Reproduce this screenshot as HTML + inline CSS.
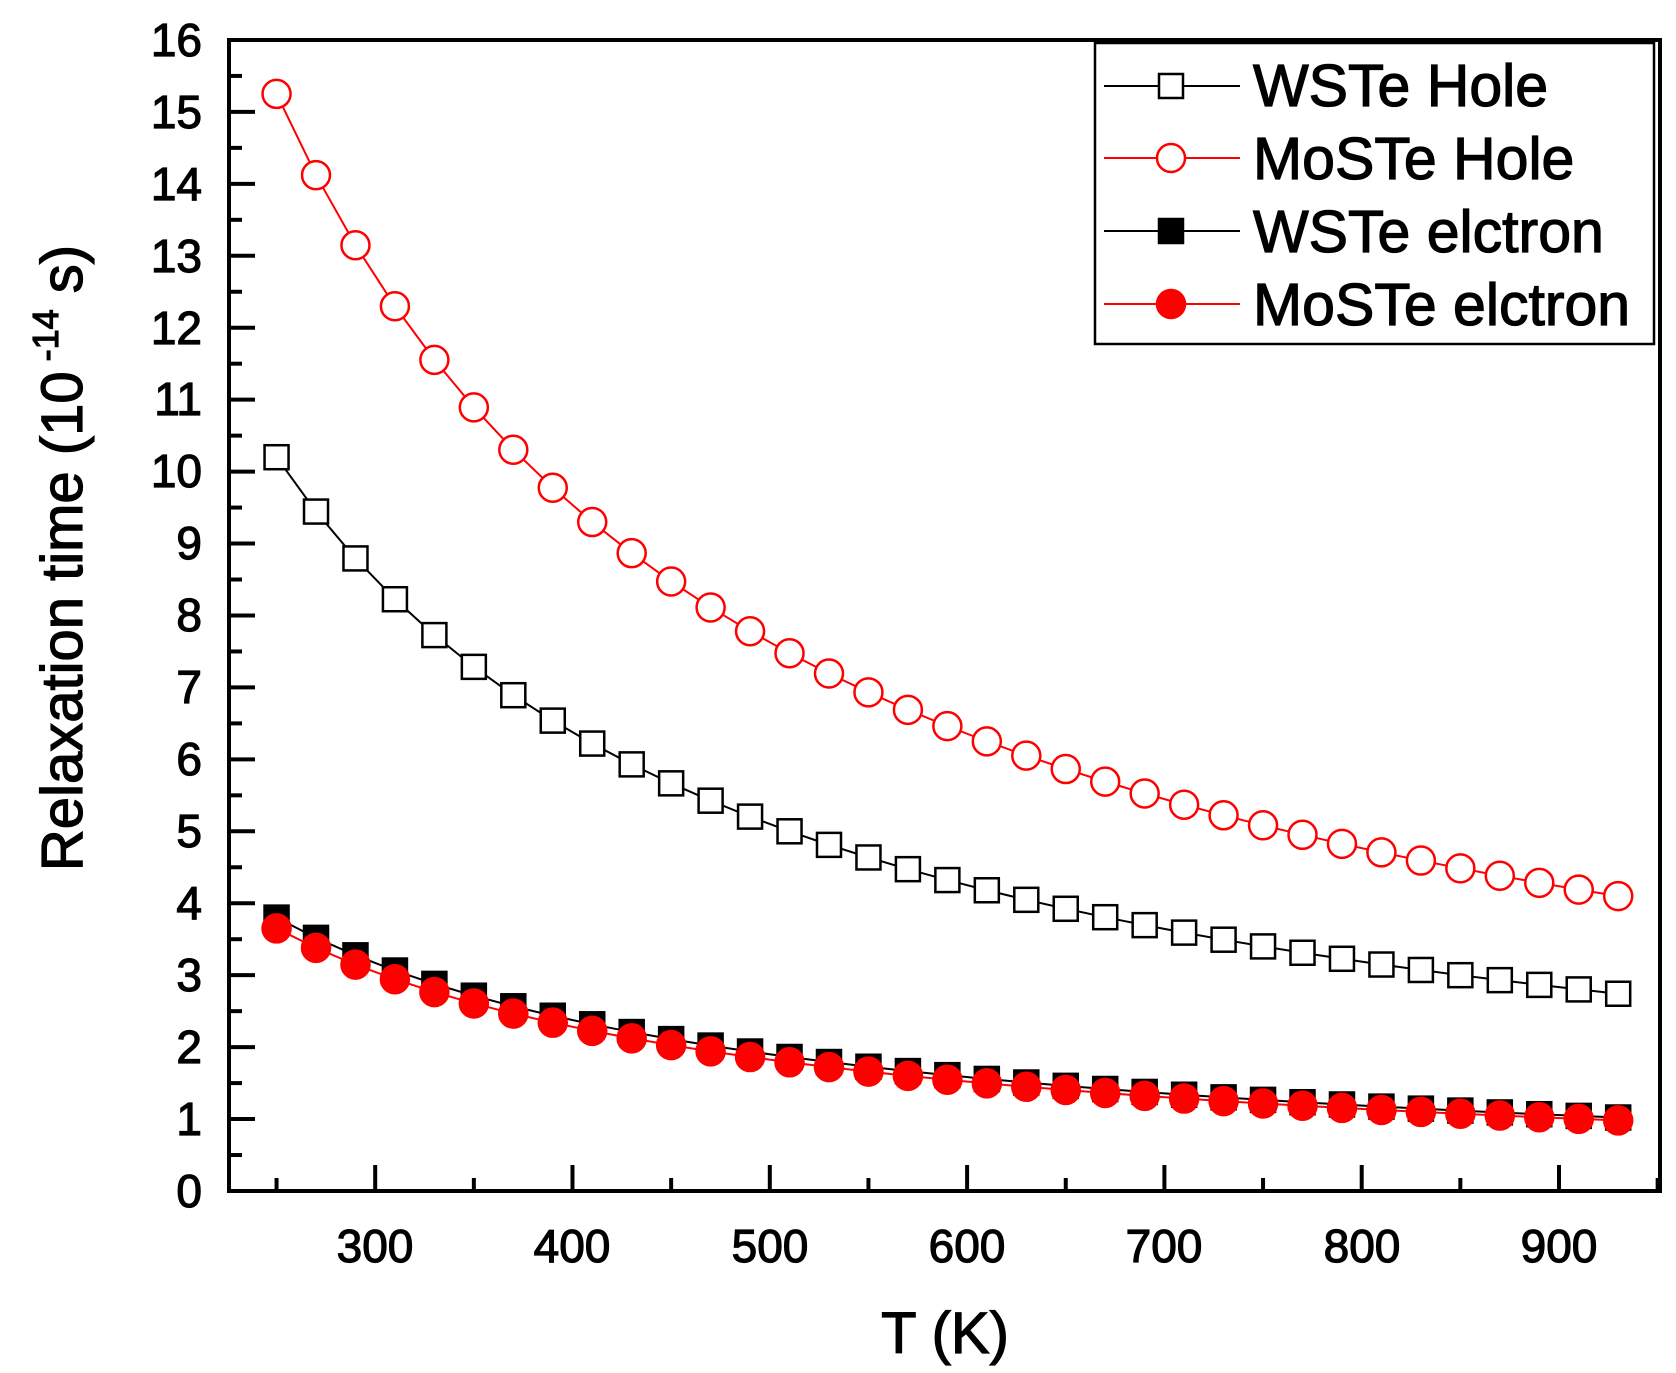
<!DOCTYPE html>
<html><head><meta charset="utf-8"><style>
html,body{margin:0;padding:0;background:#fff}
svg{display:block}
text{font-family:"Liberation Sans",Arial,sans-serif;fill:#000;stroke:#000;stroke-width:1.2}
</style></head><body>
<svg id="s" width="1676" height="1373" viewBox="0 0 1676 1373" xmlns="http://www.w3.org/2000/svg">
<g id="data"></g>
<g id="axes" stroke="#000" stroke-width="4" fill="none">
<path d="M229,40 L1660,40 L1660,1191 L229,1191 Z"/>
</g>
<g id="ticks" stroke="#000" stroke-width="4"></g>
<g font-size="46" text-anchor="end">
<text x="202" y="1207">0</text><text x="202" y="1135">1</text><text x="202" y="1063">2</text><text x="202" y="991">3</text><text x="202" y="919">4</text><text x="202" y="847">5</text><text x="202" y="775">6</text><text x="202" y="703">7</text><text x="202" y="631">8</text><text x="202" y="559">9</text><text x="202" y="487">10</text><text x="202" y="415">11</text><text x="202" y="344">12</text><text x="202" y="272">13</text><text x="202" y="200">14</text><text x="202" y="128">15</text><text x="202" y="56">16</text>
</g>
<g font-size="46" text-anchor="middle">
<text x="375" y="1262">300</text><text x="572" y="1262">400</text><text x="770" y="1262">500</text><text x="967" y="1262">600</text><text x="1164" y="1262">700</text><text x="1362" y="1262">800</text><text x="1559" y="1262">900</text>
</g>
<text x="945" y="1353" font-size="58" text-anchor="middle">T (K)</text>
<text transform="translate(82,558) rotate(-90)" font-size="58" text-anchor="middle">Relaxation time (10<tspan font-size="36" dy="-24"> -14</tspan><tspan dy="24"> s)</tspan></text>
<rect x="1095" y="43" width="559" height="301" fill="#fff" stroke="#000" stroke-width="2.5"/>
<g id="leg"></g>
<g font-size="59">
<text x="1253" y="106">WSTe Hole</text>
<text x="1253" y="179">MoSTe Hole</text>
<text x="1253" y="252">WSTe elctron</text>
<text x="1253" y="325">MoSTe elctron</text>
</g>
</svg>
<script>
var NS="http://www.w3.org/2000/svg";
function el(p,t,a){var e=document.createElementNS(NS,t);for(var k in a)e.setAttribute(k,a[k]);p.appendChild(e);return e;}
function X(T){return 1559+(T-900)*1.973;}
function Y(v){return 1191-v*71.94;}
var tk=document.getElementById('ticks');
for(var v=0;v<=16;v+=0.5){var l=(v%1===0)?26:13;el(tk,'line',{x1:229,y1:Y(v),x2:229+l,y2:Y(v)});}
for(var T=250;T<=950;T+=50){var l=(T%100===0)?26:13;el(tk,'line',{x1:X(T),y1:1191,x2:X(T),y2:1191-l});}
var series=[
 {a:3.8,c:'#000',m:'sq',f:'#000'},
 {a:3.65,c:'#f00',m:'ci',f:'#f00'},
 {a:10.2,c:'#000',m:'sq',f:'#fff'},
 {a:15.25,c:'#f00',m:'ci',f:'#fff'}
];
var g=document.getElementById('data');
function mark(p,m,x,y,c,f){
 if(m==='sq')el(p,'rect',{x:x-12,y:y-12,width:24,height:24,fill:f,stroke:c,'stroke-width':2.5});
 else el(p,'circle',{cx:x,cy:y,r:14,fill:f,stroke:c,'stroke-width':2.5});
}
series.forEach(function(s){
 var pts=[];for(var T=250;T<=930;T+=20)pts.push([X(T),Y(s.a*250/T)]);
 el(g,'polyline',{points:pts.map(function(p){return p.join(',')}).join(' '),fill:'none',stroke:s.c,'stroke-width':2});
 pts.forEach(function(p){mark(g,s.m,p[0],p[1],s.c,s.f);});
});
var lg=document.getElementById('leg');
var L=[[86,'#000','sq','#fff'],[158,'#f00','ci','#fff'],[231,'#000','sq','#000'],[304,'#f00','ci','#f00']];
L.forEach(function(r){el(lg,'line',{x1:1104,y1:r[0],x2:1240,y2:r[0],stroke:r[1],'stroke-width':2});mark(lg,r[2],1171,r[0],r[1],r[3]);});
</script>
</body></html>
